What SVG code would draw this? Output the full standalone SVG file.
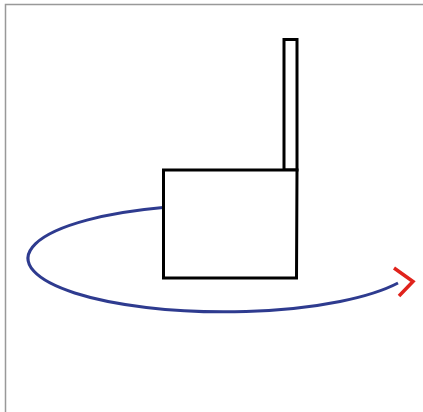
<svg xmlns="http://www.w3.org/2000/svg" width="423" height="412" viewBox="0 0 423 412">
<style>
.frame{fill:none;stroke:#999;stroke-width:1.5}
.body{fill:#fff;stroke:#000;stroke-width:3}
.orbit{fill:none;stroke:#2e3b8f;stroke-width:3}
.head{fill:none;stroke:#e0231c;stroke-width:3.5}
</style>
<rect width="423" height="412" fill="#fff"/>
<path class="frame" d="M5.5 412 V4.5 H423"/>
<g id="connectors">
<path class="orbit" d="M163 207.5 A196 53.5 0 1 0 398 283"/>
<path class="head" d="M394 268 L413 281.5 L399 296"/>
</g>
<g id="chimney">
<rect class="body" x="284" y="39.5" width="13" height="130.5"/>
</g>
<g id="box">
<path class="body" d="M163.5 170 H297 L296.5 278 H163.5 Z"/>
</g>
</svg>
